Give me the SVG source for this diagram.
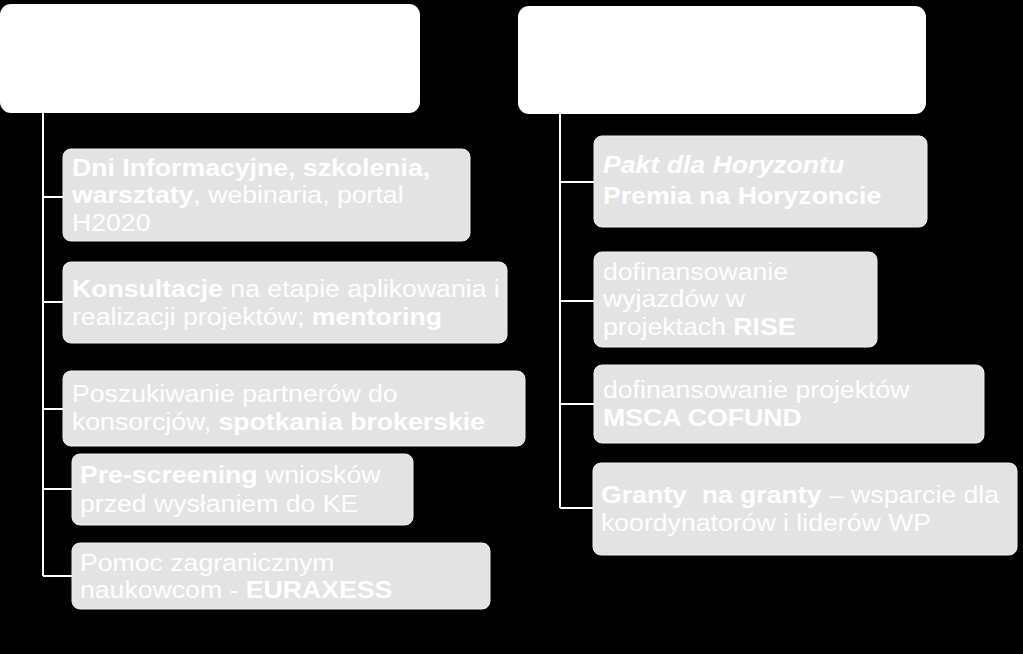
<svg xmlns="http://www.w3.org/2000/svg" width="1023" height="654" viewBox="0 0 1023 654">
<style>
.hdr{fill:#ffffff}
.box{fill:#e3e3e3;stroke:#f0f0f0;stroke-width:1}
.con{stroke:#ffffff;stroke-width:2;fill:none}
text{font-family:"Liberation Sans",Arial,sans-serif;font-size:24px;fill:#ffffff;white-space:pre}
.b{font-weight:bold}
.i{font-style:italic}
</style>
<rect width="1023" height="654" fill="#000000"/>
<g id="connectors">
<path class="con" d="M43,113 V576 M43,197 H63 M43,302 H63 M43,409 H63 M43,489 H72 M43,576 H72"/>
<path class="con" d="M560,114 V508 M560,182 H594 M560,301 H594 M560,404 H594 M560,508 H593"/>
</g>
<g id="header-left"><rect class="hdr" x="0" y="4" width="420" height="109" rx="11"/></g>
<g id="header-right"><rect class="hdr" x="518" y="6" width="408" height="108" rx="11"/></g>
<g id="l1">
<rect class="box" x="63" y="149" width="407" height="92" rx="8"/>
<text transform="translate(72,176) scale(1.11,1)"><tspan class="b">Dni Informacyjne, szkolenia,</tspan></text>
<text transform="translate(72,203) scale(1.11,1)"><tspan class="b">warsztaty</tspan>, webinaria, portal</text>
<text transform="translate(72,231) scale(1.11,1)">H2020</text>
</g>
<g id="l2">
<rect class="box" x="63" y="262" width="444" height="81" rx="8"/>
<text transform="translate(72,297) scale(1.11,1)"><tspan class="b">Konsultacje</tspan> na etapie aplikowania i</text>
<text transform="translate(72,325) scale(1.11,1)">realizacji projektów; <tspan class="b">mentoring</tspan></text>
</g>
<g id="l3">
<rect class="box" x="63" y="371" width="462" height="75" rx="8"/>
<text transform="translate(72,402) scale(1.11,1)">Poszukiwanie partnerów do</text>
<text transform="translate(72,430) scale(1.11,1)">konsorcjów, <tspan class="b">spotkania brokerskie</tspan></text>
</g>
<g id="l4">
<rect class="box" x="72" y="454" width="341" height="71" rx="8"/>
<text transform="translate(80,483) scale(1.11,1)"><tspan class="b">Pre-screening</tspan> wniosków</text>
<text transform="translate(80,512) scale(1.11,1)">przed wysłaniem do KE</text>
</g>
<g id="l5">
<rect class="box" x="72" y="543" width="418" height="66" rx="8"/>
<text transform="translate(80,571) scale(1.11,1)">Pomoc zagranicznym</text>
<text transform="translate(80,598) scale(1.11,1)">naukowcom - <tspan class="b">EURAXESS</tspan></text>
</g>
<g id="r1">
<rect class="box" x="594" y="136" width="333" height="91" rx="8"/>
<text transform="translate(603,173) scale(1.11,1)" class="b i">Pakt dla Horyzontu</text>
<text transform="translate(603,204) scale(1.11,1)" class="b">Premia na Horyzoncie</text>
</g>
<g id="r2">
<rect class="box" x="594" y="252" width="283" height="95" rx="8"/>
<text transform="translate(603,280) scale(1.11,1)">dofinansowanie</text>
<text transform="translate(603,307) scale(1.11,1)">wyjazdów w</text>
<text transform="translate(603,335) scale(1.11,1)">projektach <tspan class="b">RISE</tspan></text>
</g>
<g id="r3">
<rect class="box" x="594" y="365" width="390" height="78" rx="8"/>
<text transform="translate(603,398) scale(1.11,1)">dofinansowanie projektów</text>
<text transform="translate(603,426) scale(1.11,1)" class="b">MSCA COFUND</text>
</g>
<g id="r4">
<rect class="box" x="593" y="463" width="424" height="92" rx="8"/>
<text transform="translate(601,503) scale(1.11,1)"><tspan class="b">Granty  na granty</tspan> – wsparcie dla</text>
<text transform="translate(601,531) scale(1.11,1)">koordynatorów i liderów WP</text>
</g>
</svg>
